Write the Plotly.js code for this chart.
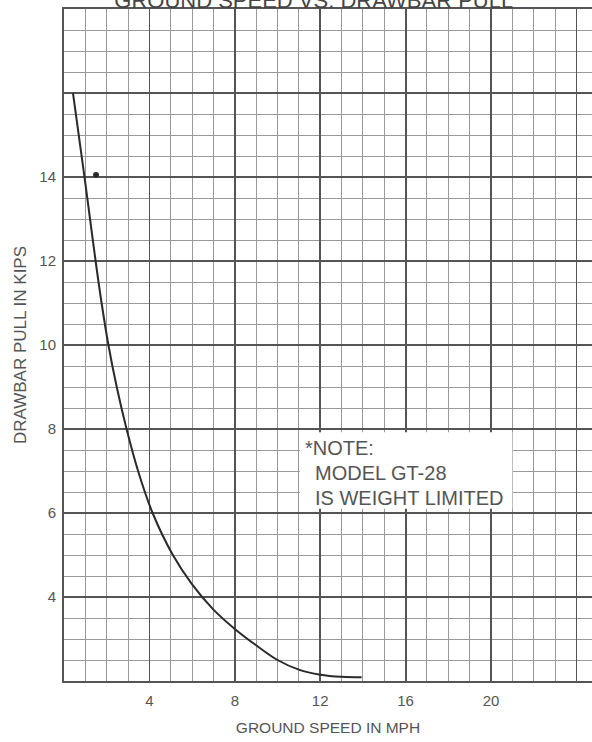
<!DOCTYPE html>
<html>
<head>
<meta charset="utf-8">
<script src="https://cdn.plot.ly/plotly-3.0.1.min.js"></script>
<style>html,body{margin:0;padding:0;background:#fff;}#chart{width:592px;height:742px;}</style>
</head>
<body>
<div id="chart"></div>
<script>
// Curve (ground speed in mph vs drawbar pull in kips)
const speedMph = [0.42, 0.69, 0.96, 1.22, 1.48, 1.76, 2.08, 2.47, 2.93, 3.47, 4.15, 5.1, 6.0, 7.0, 8.0, 9.0, 10.0, 11.0, 12.0, 13.0, 13.94];
const pullKips = [16.0, 15.0, 14.0, 13.0, 12.0, 11.0, 10.0, 9.0, 8.0, 7.0, 6.0, 5.0, 4.3, 3.7, 3.24, 2.85, 2.5, 2.27, 2.15, 2.1, 2.09];
// Asterisk mark near the curve
const markSpeed = [1.5];
const markPull = [14.05];
// Tick labels
const xTickVals = [0, 4, 8, 12, 16, 20, 24];
const xTickText = ['', '4', '8', '12', '16', '20', ''];
const yTickVals = [2, 4, 6, 8, 10, 12, 14, 16, 18];
const yTickText = ['', '4', '6', '8', '10', '12', '14', '', ''];
const noteLines = ['*NOTE:', 'MODEL GT-28', 'IS WEIGHT LIMITED'];

const txt = '#555';
const font = 'Liberation Sans, Arial, sans-serif';

const traces = [
  {x: speedMph, y: pullKips, type: 'scatter', mode: 'lines',
   line: {color: '#2a2a2a', width: 2, shape: 'spline', smoothing: 1},
   hoverinfo: 'skip', showlegend: false},
  {x: markSpeed, y: markPull, type: 'scatter', mode: 'markers',
   marker: {color: '#2a2a2a', size: 6}, hoverinfo: 'skip', showlegend: false}
];

const layout = {
  width: 592, height: 742,
  margin: {l: 64, r: 0, t: 9, b: 61, pad: 0},
  paper_bgcolor: '#fff', plot_bgcolor: '#fff',
  font: {family: font, color: txt, size: 14},
  title: {text: 'GROUND SPEED VS. DRAWBAR PULL', font: {family: font, size: 22, color: '#444'},
          x: 0.53, xanchor: 'center', y: 1.0, yanchor: 'middle', yref: 'container'},
  xaxis: {
    range: [0, 24.73], tickmode: 'array', tickvals: xTickVals, ticktext: xTickText,
    showgrid: true, gridcolor: '#555', gridwidth: 1.8,
    minor: {dtick: 1, showgrid: true, gridcolor: '#9a9a9a', gridwidth: 1, ticks: ''},
    zeroline: false, showline: true, linecolor: '#555', linewidth: 2, mirror: true,
    ticks: '', tickfont: {size: 15, color: txt}, ticklabelstandoff: 5,
    title: {text: 'GROUND SPEED IN MPH', font: {size: 15.5, color: txt}, standoff: 14},
    fixedrange: true
  },
  yaxis: {
    range: [2, 18], tickmode: 'array', tickvals: yTickVals, ticktext: yTickText,
    showgrid: true, gridcolor: '#555', gridwidth: 1.8,
    minor: {dtick: 0.5, showgrid: true, gridcolor: '#9a9a9a', gridwidth: 1, ticks: ''},
    zeroline: false, showline: true, linecolor: '#555', linewidth: 2,
    ticks: '', tickfont: {size: 15, color: txt}, ticklabelstandoff: 3,
    title: {text: 'DRAWBAR PULL IN KIPS', font: {size: 17, color: txt}, standoff: 8},
    fixedrange: true
  },
  shapes: [
    {type: 'rect', xref: 'x', yref: 'y', x0: 11.05, x1: 21.0, y0: 6.1, y1: 7.92,
     fillcolor: '#fff', line: {width: 0}, layer: 'above'}
  ],
  annotations: [
    {xref: 'x', yref: 'y', x: 11.2, y: 7.55, text: noteLines[0], showarrow: false, xanchor: 'left', yanchor: 'middle', font: {size: 20, color: txt}},
    {xref: 'x', yref: 'y', x: 11.65, y: 6.95, text: noteLines[1], showarrow: false, xanchor: 'left', yanchor: 'middle', font: {size: 20, color: txt}},
    {xref: 'x', yref: 'y', x: 11.65, y: 6.36, text: noteLines[2], showarrow: false, xanchor: 'left', yanchor: 'middle', font: {size: 20, color: txt}}
  ]
};

Plotly.newPlot('chart', traces, layout, {staticPlot: true, displayModeBar: false});
</script>
</body>
</html>
